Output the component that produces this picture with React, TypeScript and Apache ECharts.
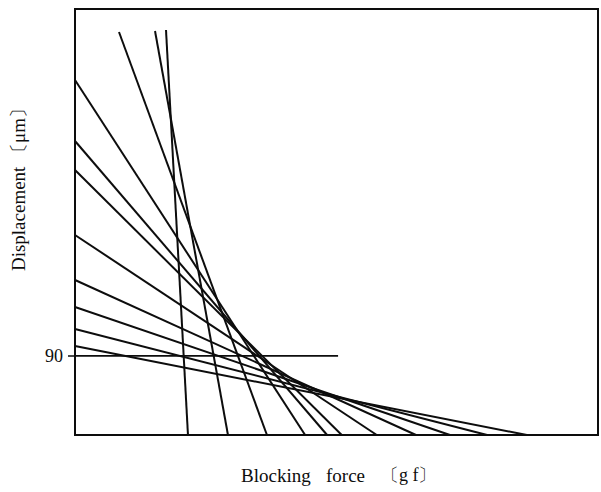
import React, { useEffect, useRef } from "react";
import * as echarts from "echarts";

// Lines that start on the left (displacement) axis: y-intercept -> x-intercept
const leftIntercepts = [404.2, 334.7, 301.7, 227.7, 176.5, 145.7, 120.7, 101.3];
const leftLineEnds = [44.0, 48.2, 51.0, 57.7, 65.2, 71.7, 78.8, 86.4];

// Steep lines that start near the top of the frame
const topStartX = [8.41, 15.3, 17.4];
const topStartY = [458.8, 460.0, 461.1];
const topEndX = [36.7, 29.25, 21.6];

// Horizontal reference at 90 um
const refY = 90;
const refEndX = 50.3;

const yTicks = [90];

const FONT = "'Liberation Serif', 'DejaVu Serif', serif";
const INK = "#0d0d0d";

export default function App() {
  const ref = useRef<HTMLDivElement>(null);

  useEffect(() => {
    if (!ref.current) return;
    const chart = echarts.init(ref.current, undefined, { renderer: "svg" });

    const lineStyle = { color: INK, width: 2 };
    const series: any[] = [];
    leftIntercepts.forEach((y0, i) => {
      series.push({
        type: "line",
        data: [
          [0, y0],
          [leftLineEnds[i], 0],
        ],
        symbol: "none",
        lineStyle,
        silent: true,
      });
    });
    topStartX.forEach((x0, i) => {
      series.push({
        type: "line",
        data: [
          [x0, topStartY[i]],
          [topEndX[i], 0],
        ],
        symbol: "none",
        lineStyle,
        silent: true,
      });
    });
    series.push({
      type: "line",
      data: [
        [0, refY],
        [refEndX, refY],
      ],
      symbol: "none",
      lineStyle: { color: INK, width: 1.7 },
      silent: true,
    });

    chart.setOption({
      animation: false,
      backgroundColor: "#ffffff",
      grid: {
        left: 75,
        right: 3,
        top: 9,
        bottom: 57,
        show: true,
        borderColor: INK,
        borderWidth: 2,
        backgroundColor: "transparent",
      },
      xAxis: {
        type: "value",
        min: 0,
        max: 100,
        axisLine: { show: true, lineStyle: { color: INK, width: 2 } },
        axisTick: { show: false },
        axisLabel: { show: false },
        splitLine: { show: false },
      },
      yAxis: {
        type: "value",
        min: 0,
        max: 485,
        axisLine: { show: true, lineStyle: { color: INK, width: 2 } },
        axisTick: {
          show: true,
          customValues: yTicks,
          length: 7,
          lineStyle: { color: INK, width: 1.5 },
        },
        axisLabel: {
          show: true,
          customValues: yTicks,
          margin: 12,
          color: INK,
          fontFamily: FONT,
          fontSize: 18,
        },
        splitLine: { show: false },
      },
      graphic: [
        {
          type: "text",
          left: 241,
          top: 466,
          style: { text: "Blocking", font: `19px ${FONT}`, fill: INK },
        },
        {
          type: "text",
          left: 326,
          top: 466,
          style: { text: "force", font: `19px ${FONT}`, fill: INK },
        },
        {
          type: "text",
          left: 381,
          top: 466,
          style: { text: "〔g f〕", font: `18px ${FONT}`, fill: INK },
        },
        {
          type: "text",
          x: 18,
          y: 185,
          rotation: Math.PI / 2,
          style: {
            text: "Displacement 〔μm〕",
            font: `19px ${FONT}`,
            fill: INK,
            align: "center",
            verticalAlign: "middle",
          },
        },
      ],
      series,
    });

    return () => chart.dispose();
  }, []);

  return (
    <div
      ref={ref}
      style={{ position: "fixed", left: 0, top: 0, width: 601, height: 492 }}
    />
  );
}
